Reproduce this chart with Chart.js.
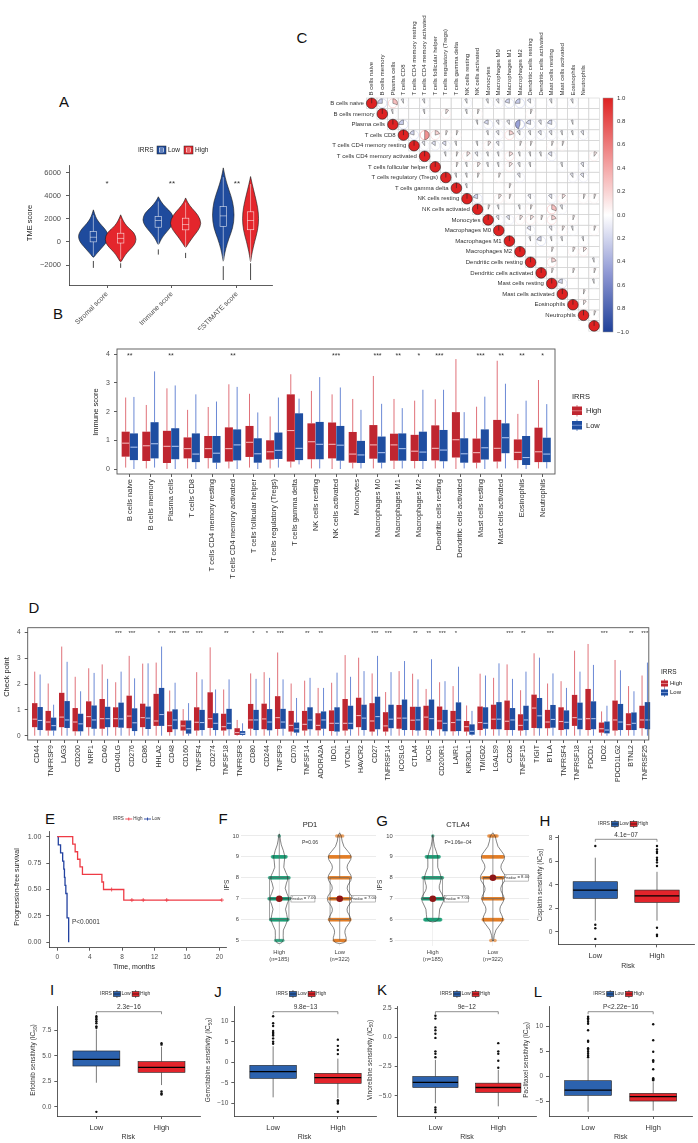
<!DOCTYPE html>
<html>
<head>
<meta charset="utf-8">
<title>Immune landscape by IRRS</title>
<script src="https://cdn.jsdelivr.net/npm/chart.js"></script>
<style>
  html, body { margin: 0; padding: 0; background: #fff; }
  #page { position: relative; width: 698px; height: 1143px; overflow: hidden; background: #fff;
          font-family: "Liberation Sans", Arial, Helvetica, sans-serif; }
  .tag { position: absolute; font-size: 15px; line-height: 15px; color: #111; transform: translate(-50%, -50%); }
</style>
</head>
<body>
<div id="page">
  <div class="tag" style="left:64px;top:101px">A</div>
  <div class="tag" style="left:302px;top:37px">C</div>
  <div class="tag" style="left:58px;top:313px">B</div>
  <div class="tag" style="left:34px;top:607px">D</div>
  <div class="tag" style="left:50px;top:818px">E</div>
  <div class="tag" style="left:223px;top:818px">F</div>
  <div class="tag" style="left:382px;top:820px">G</div>
  <div class="tag" style="left:545px;top:820px">H</div>
  <div class="tag" style="left:52px;top:989px">I</div>
  <div class="tag" style="left:218px;top:991px">J</div>
  <div class="tag" style="left:382px;top:989px">K</div>
  <div class="tag" style="left:538px;top:991px">L</div>
</div>
<script>
var FONT = '"Liberation Sans", Arial, Helvetica, sans-serif';
Chart.defaults.font.family = FONT;
Chart.defaults.color = '#333';

// ---------------- data ----------------
// A: TME scores (violins read as [value, relative density])
var tmeCats = ['Stromal score', 'Immune score', 'ESTIMATE score'];
var tmeSig = ['*', '**', '**'];
var tmeLowViolin = [
  [[2770,0],[2400,0.08],[2000,0.2],[1600,0.4],[1200,0.68],[800,0.88],[450,0.95],[0,0.85],[-400,0.6],[-800,0.35],[-1100,0.15],[-1400,0]],
  [[3900,0],[3500,0.15],[3000,0.45],[2500,0.85],[1900,1.0],[1400,0.85],[900,0.55],[400,0.25],[0,0.1],[-300,0]],
  [[6400,0],[5500,0.12],[4500,0.35],[3500,0.6],[2300,0.7],[1200,0.6],[300,0.35],[-600,0.15],[-1300,0.05],[-1800,0]]
];
var tmeHighViolin = [
  [[2340,0],[2000,0.1],[1600,0.25],[1200,0.5],[800,0.85],[200,1.0],[-300,0.85],[-700,0.55],[-1100,0.3],[-1500,0.12],[-1800,0]],
  [[3800,0],[3400,0.12],[2900,0.4],[2300,0.8],[1600,1.0],[1000,0.8],[500,0.5],[0,0.25],[-300,0.1],[-550,0]],
  [[5650,0],[5000,0.1],[4000,0.28],[3000,0.45],[2000,0.52],[1000,0.45],[0,0.25],[-900,0.1],[-1400,0.04],[-1800,0]]
];
var tmeLowBox = [[0, 400, 900], [1270, 1850, 2200], [1330, 2250, 3050]];
var tmeHighBox = [[-100, 300, 750], [1040, 1500, 2050], [1050, 1850, 2600]];
var tmeLowWhisker = [[-1200, 2300], [-300, 3500], [-1800, 5600]];
var tmeHighWhisker = [[-1500, 2000], [-550, 3400], [-1700, 5000]];
var tmeLowOutliers = [[-1650, -2250], [-650, -1100], [-2100, -3300]];
var tmeHighOutliers = [[-1850, -2250], [-950, -1400], [-1850, -3300]];

// B / C: immune cells
var cellTypes = ['B cells naive', 'B cells memory', 'Plasma cells', 'T cells CD8', 'T cells CD4 memory resting',
  'T cells CD4 memory activated', 'T cells follicular helper', 'T cells regulatory (Tregs)', 'T cells gamma delta',
  'NK cells resting', 'NK cells activated', 'Monocytes', 'Macrophages M0', 'Macrophages M1', 'Macrophages M2',
  'Dendritic cells resting', 'Dendritic cells activated', 'Mast cells resting', 'Mast cells activated',
  'Eosinophils', 'Neutrophils'];
var immSig = ['**', '', '**', '', '', '**', '', '', '', '', '***', '', '***', '**', '*', '***', '', '***', '**', '**', '*'];
// [lower whisker, q1, median, q3, upper whisker]
var immHigh = [[0.05,0.43,0.90,1.30,2.49],[0.02,0.28,0.81,1.30,2.23],[0,0.21,0.79,1.33,2.81],[0.02,0.37,0.71,1.10,2.06],
  [0.02,0.38,0.71,1.15,2.16],[0.02,0.26,0.71,1.45,2.95],[0.05,0.42,0.93,1.50,2.62],[0.02,0.33,0.60,1.00,1.83],
  [0.05,0.26,1.34,2.60,3.30],[0.02,0.34,0.95,1.59,2.72],[0,0.37,0.86,1.62,2.60],[0.02,0.22,0.52,1.29,2.44],
  [0.02,0.36,0.84,1.53,3.24],[0,0.29,0.84,1.23,2.44],[0.02,0.28,0.62,1.19,2.38],[0.02,0.30,0.72,1.52,2.43],
  [0,0.40,1.02,1.98,3.83],[0.02,0.22,0.57,1.06,2.17],[0.02,0.26,0.72,1.71,3.77],[0.02,0.31,0.58,1.03,1.92],
  [0.02,0.24,0.60,1.44,3.10]];
var immLow = [[0,0.31,0.76,1.24,2.51],[0.05,0.37,0.88,1.63,3.40],[0,0.34,0.79,1.42,2.91],[0,0.24,0.52,1.24,2.60],
  [0,0.22,0.55,1.15,2.35],[0,0.30,0.84,1.38,2.86],[0,0.22,0.53,1.07,1.97],[0.05,0.35,0.65,1.27,2.49],
  [0.16,0.31,0.72,1.94,2.45],[0.02,0.34,0.86,1.64,3.20],[0,0.29,0.83,1.50,2.84],[0.02,0.21,0.49,0.98,2.06],
  [0.02,0.22,0.57,1.13,2.27],[0.02,0.29,0.71,1.24,2.12],[0,0.28,0.59,1.30,2.76],[0.02,0.27,0.66,1.36,2.76],
  [0.02,0.22,0.53,1.07,1.98],[0,0.33,0.74,1.38,2.52],[0.02,0.55,1.09,1.59,2.97],[0,0.14,0.40,1.15,2.38],
  [0.02,0.24,0.52,1.09,2.26]];

// C: correlation matrix entries [row, column, r]; diagonal is 1
var cellCorr = [
  [0,1,-0.25],[0,2,0.3],[0,3,-0.08],[0,5,-0.08],[0,9,-0.08],[0,11,-0.08],[0,12,-0.1],[0,13,-0.2],[0,14,-0.25],[0,15,-0.12],[0,17,-0.08],[0,19,-0.08],
  [1,2,-0.06],[1,5,-0.06],[1,7,0.1],[1,9,-0.06],[1,10,0.06],[1,15,0.06],
  [2,3,-0.25],[2,10,-0.06],[2,11,-0.18],[2,12,-0.1],[2,13,-0.1],[2,14,-0.45],[2,15,-0.2],[2,16,-0.1],[2,17,-0.2],[2,19,-0.06],
  [3,4,-0.2],[3,5,0.5],[3,6,0.2],[3,7,0.06],[3,8,0.06],[3,11,-0.06],[3,12,-0.1],[3,13,0.2],[3,14,-0.1],[3,15,-0.08],[3,16,-0.12],[3,17,-0.1],[3,18,-0.06],[3,19,-0.06],[3,20,-0.1],
  [4,5,-0.1],[4,6,-0.15],[4,7,-0.15],[4,8,-0.06],[4,10,-0.06],[4,11,0.1],[4,12,-0.1],[4,14,0.06],[4,15,0.06],[4,17,0.06],[4,18,0.06],
  [5,7,-0.06],[5,8,0.06],[5,9,0.12],[5,10,-0.1],[5,11,-0.06],[5,12,-0.06],[5,13,0.15],[5,14,-0.06],[5,15,-0.06],[5,16,-0.06],[5,17,-0.15],[5,21,0.1],
  [6,8,0.06],[6,9,-0.06],[6,10,0.1],[6,11,-0.06],[6,12,-0.06],[6,13,0.12],[6,14,-0.08],[6,15,-0.06],[6,18,-0.06],[6,20,-0.1],
  [7,8,-0.06],[7,9,-0.06],[7,10,0.06],[7,12,0.06],[7,14,-0.1],[7,19,-0.1],[7,20,-0.12],
  [8,9,-0.06],[8,13,0.06],
  [9,10,-0.2],[9,12,0.1],[9,13,0.06],[9,15,-0.1],[9,17,-0.12],[9,18,0.12],[9,20,0.06],[9,21,0.06],
  [10,11,0.06],[10,12,-0.06],[10,14,-0.06],[10,15,0.06],[10,17,0.3],[10,18,-0.08],
  [11,12,-0.1],[11,13,-0.12],[11,14,0.1],[11,15,0.12],[11,16,0.06],[11,17,0.2],[11,19,0.06],
  [12,15,-0.15],[12,17,-0.1],[12,18,0.08],[12,19,-0.06],[12,21,0.06],
  [13,15,-0.06],[13,16,-0.2],[13,17,-0.06],[13,18,-0.06],[13,20,-0.06],
  [14,17,0.06],[14,19,0.08],[14,20,0.12],
  [15,17,0.2],[15,21,-0.06],
  [16,17,0.06],[16,19,0.06],[16,21,0.06],
  [17,18,-0.2],[17,21,-0.06],
  [18,20,0.06],[19,20,0.1],[20,21,0.06]
];
var colorbarLabels = ['1.0', '0.8', '0.6', '0.4', '0.2', '0.0', '0.2', '0.4', '0.6', '0.8', '\u22121.0'];

// D: immune checkpoints
var cpGenes = ['CD44','TNFRSF9','LAG3','CD200','NRP1','CD40','CD40LG','CD276','CD86','HHLA2','CD48','CD160','TNFSF4',
  'CD274','TNFSF18','TNFRSF8','CD80','CD244','TNFSF9','CD70','TNFSF14','ADORA2A','IDO1','VTCN1','HAVCR2','CD27',
  'TNFRSF14','ICOSLG','CTLA4','ICOS','CD200R1','LAIR1','KIR3DL1','TMIGD2','LGALS9','CD28','TNFSF15','TIGIT','BTLA',
  'TNFRSF4','TNFRSF18','PDCD1','IDO2','PDCD1LG2','BTNL2','TNFRSF25'];
var cpSig = ['','','','','','','***','***','','*','***','***','***','','**','','*','*','***','','**','**','','','',
  '***','***','','**','**','***','*','','','','***','**','','***','','','','***','','**','***'];
var cpHigh = [[0,0.33,0.64,1.26,2.48],[0,0.20,0.53,0.96,2.02],[0,0.33,0.72,1.66,3.45],[0,0.17,0.53,1.07,2.28],
  [0,0.33,0.74,1.33,2.61],[0,0.27,0.66,1.42,2.76],[0,0.33,0.66,1.10,2.07],[0,0.29,0.76,1.55,3.09],[0,0.33,0.70,1.24,2.79],
  [0,0.38,0.57,1.62,2.83],[0,0.14,0.39,0.94,1.75],[0,0.20,0.38,0.59,1.03],[0,0.20,0.52,1.10,2.46],[0,0.30,0.66,1.68,3.42],
  [0,0.20,0.35,0.85,1.79],[0,0.03,0.12,0.29,0.61],[0,0.27,0.61,1.23,2.41],[0,0.25,0.65,1.24,2.46],[0,0.26,0.70,1.53,3.22],
  [0,0.16,0.40,0.96,2.02],[0,0.20,0.44,0.96,2.13],[0,0.21,0.40,0.87,1.85],[0,0.18,0.48,0.98,2.05],[0,0.20,0.48,1.42,3.12],
  [0,0.33,0.78,1.47,3.02],[0,0.16,0.57,1.26,2.41],[0,0.16,0.38,0.91,1.69],[0,0.27,0.68,1.19,2.50],[0,0.22,0.60,1.12,2.40],
  [0,0.22,0.72,1.16,1.81],[0,0.25,0.57,1.13,2.07],[0,0.17,0.51,0.96,1.92],[0,0.16,0.35,0.57,1.17],[0,0.22,0.51,1.13,2.40],
  [0,0.25,0.64,1.20,2.24],[0,0.22,0.56,1.36,2.76],[0,0.20,0.40,0.83,1.76],[0,0.30,1.07,1.59,3.19],[0,0.29,0.53,1.00,2.02],
  [0,0.22,0.55,1.10,2.11],[0,0.38,0.70,1.58,3.29],[0,0.22,0.66,1.81,3.55],[0,0.12,0.27,0.51,0.94],[0,0.20,0.61,1.36,2.93],
  [0,0.22,0.43,0.87,1.92],[0,0.29,0.61,1.16,2.33]];
var cpLow = [[0,0.22,0.59,1.11,2.37],[0,0.20,0.39,0.70,1.20],[0,0.30,0.61,1.34,2.86],[0,0.17,0.46,0.85,1.72],
  [0,0.27,0.61,1.17,2.43],[0,0.33,0.66,1.12,2.20],[0,0.31,0.65,1.28,2.48],[0,0.18,0.50,1.06,2.22],[0,0.26,0.68,1.13,2.80],
  [0,0.38,0.82,1.85,3.45],[0,0.25,0.61,1.02,2.05],[0,0.08,0.27,0.59,1.26],[0,0.22,0.51,1.00,2.18],[0,0.22,0.48,0.87,1.79],
  [0,0.25,0.48,1.04,2.18],[0,0.03,0.09,0.18,0.48],[0,0.22,0.61,1.00,2.20],[0,0.21,0.53,1.03,2.24],[0,0.27,0.53,1.04,2.18],
  [0,0.12,0.27,0.51,1.46],[0,0.25,0.61,1.10,2.24],[0,0.27,0.61,0.94,1.85],[0,0.16,0.48,1.10,2.44],[0,0.25,0.48,1.16,2.28],
  [0,0.22,0.68,1.20,2.50],[0,0.25,0.74,1.51,3.09],[0,0.29,0.64,1.20,2.46],[0,0.22,0.68,1.40,2.89],[0,0.20,0.61,1.12,2.18],
  [0,0.20,0.66,1.40,2.96],[0,0.17,0.48,1.00,2.11],[0,0.18,0.61,1.29,2.67],[0,0.04,0.17,0.44,0.96],[0,0.27,0.48,1.10,2.33],
  [0,0.25,0.64,1.30,2.80],[0,0.22,0.61,1.07,2.20],[0,0.22,0.61,1.16,2.48],[0,0.29,0.77,1.46,3.02],[0,0.31,0.63,1.19,2.41],
  [0,0.25,0.52,0.98,1.85],[0,0.25,0.64,1.28,2.48],[0,0.25,0.66,1.33,2.74],[0,0.09,0.22,0.55,1.16],[0,0.22,0.53,1.23,2.53],
  [0,0.22,0.48,0.90,1.72],[0,0.25,0.61,1.30,2.83]];

// E: Kaplan-Meier
var kmHighTime = [0, 1.9, 2.2, 2.5, 2.8, 3.1, 5.5, 5.7, 8.2, 20.3];
var kmHighSurv = [1, 0.929, 0.857, 0.786, 0.714, 0.643, 0.571, 0.5, 0.4, 0.4];
var kmHighCensorTime = [6.7, 9.2, 10.6, 13.5, 20.3];
var kmHighCensorSurv = [0.5, 0.4, 0.4, 0.4, 0.4];
var kmLowTime = [0, 0.12, 0.4, 0.66, 0.8, 0.88, 0.95, 1.05, 1.2, 1.4];
var kmLowSurv = [1, 0.923, 0.846, 0.769, 0.692, 0.615, 0.538, 0.462, 0.231, 0];

// F / G: IPS
var ipsLevels = [5, 6, 7, 8, 9, 10];
var pd1HighCounts = [6, 35, 70, 45, 22, 1];
var pd1LowCounts = [14, 55, 110, 85, 50, 4];
var ctla4HighCounts = [0, 30, 85, 45, 20, 1];
var ctla4LowCounts = [2, 45, 80, 110, 70, 8];
var pd1HighViolin = [[10.1,0],[10,0.05],[9.6,0.1],[9,0.45],[8.5,0.22],[8,0.67],[7.5,0.3],[7,0.73],[6.5,0.33],[6,0.67],[5.5,0.2],[5,0.33],[4.8,0]];
var pd1LowViolin = [[10.15,0],[10,0.13],[9.5,0.2],[9,0.93],[8.5,0.35],[8,0.93],[7.5,0.35],[7,1.0],[6.5,0.35],[6,0.87],[5.5,0.25],[5,0.53],[4.8,0]];
var ctla4HighViolin = [[10.05,0],[10,0.03],[9.5,0.08],[9,0.4],[8.5,0.27],[8,0.67],[7.5,0.33],[7,0.87],[6.5,0.4],[6,0.47],[5.85,0]];
var ctla4LowViolin = [[10.15,0],[10,0.2],[9.5,0.27],[9,0.93],[8.5,0.4],[8,1.0],[7.5,0.4],[7,0.87],[6.5,0.35],[6,0.8],[5.5,0.13],[5,0.05],[4.95,0]];
var pd1HighBox = [5, 6, 7, 8, 10], pd1LowBox = [5, 6, 7, 8, 10];
var ctla4HighBox = [6, 7, 7, 8, 10], ctla4LowBox = [5, 7, 8, 8, 10];

// H-L: drug sensitivity
var drugNames = ['Cisplatin', 'Erlotinib', 'Gemcitabine', 'Vinorelbine', 'Paclitaxel'];
var drugP = ['4.1e\u221207', '2.3e\u221216', '9.8e\u221213', '9e\u221212', 'P<2.22e\u221216'];
var drugLow = [[0.95,2.84,3.55,4.26,6.3],[2.36,4.0,4.66,5.48,7.6],[-8.5,-3.9,-2.27,-0.73,3.9],[-5.63,-4.29,-3.86,-3.35,-1.93],[-7.0,-3.73,-2.67,-0.8,3.5]];
var drugHigh = [[0.95,2.50,3.06,3.55,5.1],[2.13,3.38,3.87,4.43,5.9],[-8.7,-5.1,-3.72,-2.67,0.9],[-5.9,-4.72,-4.29,-3.92,-2.78],[-6.8,-4.87,-4.0,-3.33,-1.1]];
var drugLowOut = [[7.3,0.6,0.3,-0.6],[8.9,8.75,8.6,8.4,8.2,7.9,7.75,-0.5],[11.2,9.5,8.8,7.6,7.2,6.9,6.5,5.8,5.0,4.5],
  [1.85,1.6,0.85,0.6,0.3,-0.05,-1.2,-1.4,-1.7,-6.0,-6.2,-6.4],[12.0,11.7,11.4,11.0,10.6,9.3,7.2,7.0,5.7,5.4,5.0,4.6,4.2,3.9]];
var drugHighOut = [[7.3,7.0,6.8,6.7,6.3,6.1,5.9,5.6,0.35,-0.25,-0.35],[6.25,6.1,1.5,1.3,1.2],[5.5,4.0,3.0,2.0,-9.2,-9.6,-10.0,-12.0],
  [-0.5,-1.2,-1.4,-2.0,-2.6],[10.5,7.3,5.0,3.3,3.0,1.5,-0.3,-0.5,-0.7]];

// ---------------- colours ----------------
var BLUE_A = '#1f4b9d', RED_A = '#e4262c';
var HIGH_B = '#bf2630', LOW_B = '#1f4ea1';
var HIGH_WH = 'rgba(214,70,80,0.85)', LOW_WH = 'rgba(60,100,200,0.85)';
var HIGH_MED = '#f3b3b6', LOW_MED = '#a9c1ee';
var RED_E = '#ee3b45', BLUE_E = '#2342a0';
var DRUG_LOW = '#2c62ae', DRUG_HIGH = '#e3242b';
var GREEN = '#1b9e77', ORANGE = '#e27c25', MED_RED = '#8e1616';
var corrStops = [[-1, [31, 64, 153]], [-0.5, [143, 152, 212]], [0, [255, 255, 255]], [0.5, [241, 146, 146]], [1, [222, 34, 34]]];

// ---------------- helpers ----------------
var page = document.getElementById('page');

function range(n) { var a = []; for (var i = 0; i < n; i++) a.push(i); return a; }
function minus(v) { return v < 0 ? '\u2212' + Math.abs(v) : String(v); }
function minus1(v) { var s = Math.abs(v).toFixed(1); return v < 0 ? '\u2212' + s : s; }

function corrColor(r) {
  for (var k = 1; k < corrStops.length; k++) {
    if (r <= corrStops[k][0]) {
      var a = corrStops[k - 1], b = corrStops[k], t = (r - a[0]) / (b[0] - a[0]);
      return 'rgb(' + [0, 1, 2].map(function (q) { return Math.round(a[1][q] + t * (b[1][q] - a[1][q])); }).join(',') + ')';
    }
  }
  return 'rgb(222,34,34)';
}

function txt(c, s, x, y, size, o) {
  o = o || {};
  c.save();
  c.font = (o.weight || 'normal') + ' ' + size + 'px ' + FONT;
  c.fillStyle = o.color || '#333';
  c.textAlign = o.align || 'center';
  c.textBaseline = o.base || 'middle';
  c.translate(x, y);
  if (o.rot) c.rotate(o.rot);
  c.fillText(s, 0, 0);
  var w = c.measureText(s).width;
  c.restore();
  return w;
}

// alternating normal / subscript pieces, centred on (x, y)
function subTxt(c, parts, x, y, size, rot, color) {
  c.save();
  c.translate(x, y);
  if (rot) c.rotate(rot);
  c.fillStyle = color || '#333';
  c.textBaseline = 'middle';
  c.textAlign = 'left';
  var w = 0;
  parts.forEach(function (p, i) { c.font = (i % 2 ? size * 0.72 : size) + 'px ' + FONT; w += c.measureText(p).width; });
  var px = -w / 2;
  parts.forEach(function (p, i) {
    c.font = (i % 2 ? size * 0.72 : size) + 'px ' + FONT;
    c.fillText(p, px, i % 2 ? size * 0.3 : 0);
    px += c.measureText(p).width;
  });
  c.restore();
}

function line(c, x1, y1, x2, y2) { c.beginPath(); c.moveTo(x1, y1); c.lineTo(x2, y2); c.stroke(); }

function violin(c, prof, cx, ys, half, fill, stroke, lw) {
  var right = prof.map(function (p) { return [cx + p[1] * half, ys.getPixelForValue(p[0])]; });
  var left = prof.slice().reverse().map(function (p) { return [cx - p[1] * half, ys.getPixelForValue(p[0])]; });
  var pts = right.concat(left.slice(1));
  c.beginPath();
  c.moveTo(pts[0][0], pts[0][1]);
  for (var i = 1; i < pts.length - 1; i++) {
    c.quadraticCurveTo(pts[i][0], pts[i][1], (pts[i][0] + pts[i + 1][0]) / 2, (pts[i][1] + pts[i + 1][1]) / 2);
  }
  c.lineTo(pts[pts.length - 1][0], pts[pts.length - 1][1]);
  c.closePath();
  if (fill) { c.fillStyle = fill; c.fill(); }
  if (stroke) { c.strokeStyle = stroke; c.lineWidth = lw; c.stroke(); }
}

// filled box without outline (panels B, D)
function softBox(c, cx, hw, ys, st, fill, wh, med) {
  var p = st.map(function (v) { return ys.getPixelForValue(v); });
  c.strokeStyle = wh; c.lineWidth = 0.9;
  line(c, cx, p[0], cx, p[1]);
  line(c, cx, p[3], cx, p[4]);
  c.fillStyle = fill;
  c.fillRect(cx - hw, p[3], 2 * hw, p[1] - p[3]);
  c.strokeStyle = med; c.lineWidth = 1.1;
  line(c, cx - hw + 0.5, p[2], cx + hw - 0.5, p[2]);
}

// ggpubr style box (panels H-L)
function hardBox(c, cx, hw, ys, st, fill) {
  var p = st.map(function (v) { return ys.getPixelForValue(v); });
  c.strokeStyle = '#222'; c.lineWidth = 0.6;
  line(c, cx, p[0], cx, p[1]);
  line(c, cx, p[3], cx, p[4]);
  c.fillStyle = fill;
  c.fillRect(cx - hw, p[3], 2 * hw, p[1] - p[3]);
  c.strokeRect(cx - hw, p[3], 2 * hw, p[1] - p[3]);
  c.strokeStyle = '#000'; c.lineWidth = 1.3;
  line(c, cx - hw, p[2], cx + hw, p[2]);
}

function boxKey(c, x, y, w, h, fill, med, edge) {
  c.strokeStyle = edge || fill; c.lineWidth = 0.6;
  line(c, x + w / 2, y - 1.5, x + w / 2, y + h + 1.5);
  c.fillStyle = fill;
  c.fillRect(x, y, w, h);
  if (edge) c.strokeRect(x, y, w, h);
  c.strokeStyle = med;
  line(c, x, y + h / 2, x + w, y + h / 2);
}

var CLASSIC_GRID = { drawOnChartArea: false, drawTicks: true, tickLength: 3, color: '#333', lineWidth: 0.8 };
var CLASSIC_BORDER = { display: true, color: '#333', width: 0.8 };

function axis(min, max, ticks, fmt, o) {
  o = o || {};
  return {
    type: 'linear', min: min, max: max, reverse: !!o.reverse,
    afterBuildTicks: function (s) { s.ticks = ticks.map(function (v) { return { value: v }; }); },
    ticks: {
      callback: fmt, font: { size: o.size || 7, lineHeight: 1.2 }, color: o.color || '#4d4d4d',
      padding: o.pad == null ? 3 : o.pad, autoSkip: false, maxRotation: o.rot || 0, minRotation: o.rot || 0
    },
    grid: o.grid || CLASSIC_GRID,
    border: o.border || CLASSIC_BORDER
  };
}

// one canvas per panel; `area` is the plot rectangle in page pixels
function makeChart(box, area, scales, datasets, draw) {
  var cv = document.createElement('canvas');
  cv.width = box[2]; cv.height = box[3];
  cv.style.cssText = 'position:absolute;left:' + box[0] + 'px;top:' + box[1] + 'px;width:' + box[2] + 'px;height:' + box[3] + 'px;';
  page.appendChild(cv);
  var L = area[0] - box[0], T = area[1] - box[1];
  var R = box[0] + box[2] - area[2], B = box[1] + box[3] - area[3];
  var pad = { top: T, right: R, left: 0, bottom: 0 };
  if (scales.x.display === false) pad.bottom = B; else scales.x.afterFit = function (s) { s.height = B; };
  if (scales.y.display === false) pad.left = L; else scales.y.afterFit = function (s) { s.width = L; };
  var P = { x: function (v) { return v - box[0]; }, y: function (v) { return v - box[1]; } };
  return new Chart(cv, {
    type: 'scatter',
    data: { datasets: datasets },
    options: {
      responsive: false, animation: false, devicePixelRatio: 1,
      layout: { padding: pad },
      scales: scales,
      plugins: { legend: { display: false }, tooltip: { enabled: false } }
    },
    plugins: [{
      id: 'panelDraw',
      beforeDatasetsDraw: function (chart) {
        if (!draw.before) return;
        chart.ctx.save(); draw.before(chart.ctx, chart.scales.x, chart.scales.y, P, chart); chart.ctx.restore();
      },
      afterDatasetsDraw: function (chart) {
        if (!draw.after) return;
        chart.ctx.save(); draw.after(chart.ctx, chart.scales.x, chart.scales.y, P, chart); chart.ctx.restore();
      }
    }]
  });
}

// ---------------- A: TME violins ----------------
makeChart([0, 140, 290, 190], [69, 165, 272, 285], {
  x: axis(-0.585, 2.54, [0, 1, 2], function (v) { return tmeCats[v]; }, { rot: 45, size: 7, pad: 2 }),
  y: axis(-3730, 6650, [-2000, 0, 2000, 4000, 6000], minus, { size: 7.5, pad: 5 })
}, [], {
  after: function (c, xs, ys, P) {
    var u = xs.getPixelForValue(1) - xs.getPixelForValue(0);
    var y = function (v) { return ys.getPixelForValue(v); };
    var groups = [
      { vio: tmeLowViolin, box: tmeLowBox, wh: tmeLowWhisker, out: tmeLowOutliers, col: BLUE_A, dx: -0.21 },
      { vio: tmeHighViolin, box: tmeHighBox, wh: tmeHighWhisker, out: tmeHighOutliers, col: RED_A, dx: 0.21 }
    ];
    tmeCats.forEach(function (name, i) {
      groups.forEach(function (g) {
        var cx = xs.getPixelForValue(i + g.dx), hw = u * 0.05;
        c.strokeStyle = '#333'; c.lineWidth = 0.9;
        line(c, cx, y(g.out[i][0]), cx, y(g.out[i][1]));
        violin(c, g.vio[i], cx, ys, u * 0.245, g.col, '#1a1a1a', 0.6);
        c.strokeStyle = 'rgba(255,255,255,0.85)'; c.lineWidth = 0.6;
        line(c, cx, y(g.wh[i][0]), cx, y(g.box[i][0]));
        line(c, cx, y(g.box[i][2]), cx, y(g.wh[i][1]));
        c.strokeRect(cx - hw, y(g.box[i][2]), 2 * hw, y(g.box[i][0]) - y(g.box[i][2]));
        line(c, cx - hw, y(g.box[i][1]), cx + hw, y(g.box[i][1]));
      });
      txt(c, tmeSig[i], xs.getPixelForValue(i), ys.getPixelForValue(5000), 8, { color: '#333' });
    });
    txt(c, 'TME score', P.x(30), P.y(223), 7.5, { rot: -Math.PI / 2, color: '#222' });
    // legend
    txt(c, 'IRRS', P.x(138), P.y(150), 6.5, { align: 'left', color: '#222' });
    [[157, BLUE_A, 'Low'], [184, RED_A, 'High']].forEach(function (k) {
      var kx = P.x(k[0]), ky = P.y(146);
      c.fillStyle = k[1]; c.fillRect(kx, ky, 9, 8);
      c.strokeStyle = '#222'; c.lineWidth = 0.5; c.strokeRect(kx, ky, 9, 8);
      c.strokeStyle = '#fff'; c.lineWidth = 0.6;
      c.strokeRect(kx + 2.5, ky + 2, 4, 4);
      line(c, kx + 2.5, ky + 4, kx + 6.5, ky + 4);
      txt(c, k[2], kx + 11, ky + 4, 6.5, { align: 'left', color: '#222' });
    });
  }
});

// ---------------- C: correlation matrix ----------------
makeChart([230, 0, 468, 340], [366.4, 98, 599.4, 331.2], {
  x: { type: 'linear', display: false, min: -0.5, max: 21.5 },
  y: { type: 'linear', display: false, min: -0.5, max: 21.5, reverse: true }
}, [], {
  after: function (c, xs, ys, P) {
    var n = 22;
    var cw = xs.getPixelForValue(1) - xs.getPixelForValue(0);
    var X = function (j) { return xs.getPixelForValue(j); }, Y = function (i) { return ys.getPixelForValue(i); };
    c.strokeStyle = '#d2d2d2'; c.lineWidth = 0.6;
    for (var i = 0; i < n; i++) for (var j = i; j < n; j++) c.strokeRect(X(j) - cw / 2, Y(i) - cw / 2, cw, cw);
    var rad = cw * 0.43;
    cellCorr.forEach(function (e) {
      var x = X(e[1]), yy = Y(e[0]), r = e[2];
      c.strokeStyle = corrColor(r); c.lineWidth = 0.6;
      c.beginPath(); c.arc(x, yy, rad, 0, 2 * Math.PI); c.stroke();
      c.beginPath(); c.moveTo(x, yy);
      c.arc(x, yy, rad, -Math.PI / 2, -Math.PI / 2 + 2 * Math.PI * r, r < 0);
      c.closePath();
      c.fillStyle = corrColor(r); c.fill();
      c.strokeStyle = '#444'; c.lineWidth = 0.45; c.stroke();
    });
    for (var d = 0; d < n; d++) {
      var dx = X(d), dy = Y(d);
      c.beginPath(); c.arc(dx, dy, cw * 0.5, 0, 2 * Math.PI);
      c.fillStyle = corrColor(1); c.fill();
      c.strokeStyle = '#222'; c.lineWidth = 0.6; c.stroke();
      line(c, dx, dy, dx, dy - cw * 0.5);
    }
    cellTypes.forEach(function (name, k) {
      txt(c, name, X(k) - cw / 2 - 2.5, Y(k), 6, { align: 'right', color: '#333' });
      txt(c, name, X(k), Y(0) - cw / 2 - 2.5, 6, { align: 'left', rot: -Math.PI / 2, color: '#333' });
    });
    // colour bar
    var bx = P.x(603), by0 = P.y(98), by1 = P.y(332);
    var grad = c.createLinearGradient(0, by0, 0, by1);
    for (var s = 0; s <= 20; s++) grad.addColorStop(s / 20, corrColor(1 - s / 10));
    c.fillStyle = grad; c.fillRect(bx, by0, 10, by1 - by0);
    c.strokeStyle = '#999'; c.lineWidth = 0.5; c.strokeRect(bx, by0, 10, by1 - by0);
    colorbarLabels.forEach(function (lab, k) {
      txt(c, lab, P.x(617), by0 + k * (by1 - by0) / 10, 6, { align: 'left', color: '#333' });
    });
  }
});

// ---------------- B: immune cell boxplots ----------------
makeChart([0, 300, 698, 305], [117, 349, 555, 474], {
  x: axis(-0.62, 20.6, range(21), function (v) { return cellTypes[v]; }, { rot: 90, size: 7.5, pad: 2, color: '#333', border: { display: false } }),
  y: axis(-0.174, 4.18, [0, 1, 2, 3, 4], String, { size: 7, pad: 4, border: { display: false } })
}, [], {
  after: function (c, xs, ys, P, chart) {
    var a = chart.chartArea;
    var u = xs.getPixelForValue(1) - xs.getPixelForValue(0);
    cellTypes.forEach(function (name, i) {
      softBox(c, xs.getPixelForValue(i - 0.2), u * 0.195, ys, immHigh[i], HIGH_B, HIGH_WH, HIGH_MED);
      softBox(c, xs.getPixelForValue(i + 0.2), u * 0.195, ys, immLow[i], LOW_B, LOW_WH, LOW_MED);
      if (immSig[i]) txt(c, immSig[i], xs.getPixelForValue(i), ys.getPixelForValue(3.93), 7, { color: '#333' });
    });
    c.strokeStyle = '#555'; c.lineWidth = 0.9;
    c.strokeRect(a.left, a.top, a.right - a.left, a.bottom - a.top);
    txt(c, 'Immune score', P.x(96), P.y(412), 7.5, { rot: -Math.PI / 2, color: '#222' });
    txt(c, 'IRRS', P.x(572), P.y(397), 7.5, { align: 'left', color: '#222' });
    boxKey(c, P.x(572), P.y(406.5), 10, 8.5, HIGH_B, HIGH_MED, null);
    boxKey(c, P.x(572), P.y(421), 10, 8.5, LOW_B, LOW_MED, null);
    txt(c, 'High', P.x(586), P.y(411), 7.5, { align: 'left', color: '#222' });
    txt(c, 'Low', P.x(586), P.y(425.5), 7.5, { align: 'left', color: '#222' });
  }
});

// ---------------- D: checkpoint boxplots ----------------
makeChart([0, 600, 698, 185], [27.7, 627.7, 648.8, 740], {
  x: axis(-0.72, 45.3, range(46), function (v) { return cpGenes[v]; }, { rot: 90, size: 7, pad: 2, color: '#333', border: { display: false } }),
  y: axis(-0.166, 4.18, [0, 1, 2, 3, 4], String, { size: 6.5, pad: 4, border: { display: false } })
}, [], {
  after: function (c, xs, ys, P, chart) {
    var a = chart.chartArea;
    var u = xs.getPixelForValue(1) - xs.getPixelForValue(0);
    cpGenes.forEach(function (g, i) {
      softBox(c, xs.getPixelForValue(i - 0.2), u * 0.2, ys, cpHigh[i], HIGH_B, HIGH_WH, HIGH_MED);
      softBox(c, xs.getPixelForValue(i + 0.2), u * 0.2, ys, cpLow[i], LOW_B, LOW_WH, LOW_MED);
      if (cpSig[i]) txt(c, cpSig[i], xs.getPixelForValue(i), ys.getPixelForValue(3.98), 6, { color: '#333' });
    });
    c.strokeStyle = '#555'; c.lineWidth = 0.9;
    c.strokeRect(a.left, a.top, a.right - a.left, a.bottom - a.top);
    txt(c, 'Check point', P.x(7), P.y(677), 7.5, { rot: -Math.PI / 2, color: '#222' });
    txt(c, 'IRRS', P.x(661), P.y(672), 6.5, { align: 'left', color: '#222' });
    boxKey(c, P.x(661), P.y(680.5), 7, 6, HIGH_B, HIGH_MED, null);
    boxKey(c, P.x(661), P.y(689.5), 7, 6, LOW_B, LOW_MED, null);
    txt(c, 'High', P.x(670), P.y(683.5), 6, { align: 'left', color: '#222' });
    txt(c, 'Low', P.x(670), P.y(692.5), 6, { align: 'left', color: '#222' });
  }
});

// ---------------- E: Kaplan-Meier ----------------
makeChart([0, 800, 235, 175], [49.3, 831.7, 226.7, 947.7], {
  x: axis(-0.99, 20.9, [0, 4, 8, 12, 16, 20], String, { size: 6.5, pad: 3 }),
  y: axis(-0.051, 1.047, [0, 0.25, 0.5, 0.75, 1], function (v) { return v.toFixed(2); }, { size: 7, pad: 5 })
}, [
  { data: kmHighTime.map(function (t, i) { return { x: t, y: kmHighSurv[i] }; }), showLine: true, stepped: true,
    borderColor: RED_E, borderWidth: 1.3, pointRadius: 0, fill: false },
  { data: kmLowTime.map(function (t, i) { return { x: t, y: kmLowSurv[i] }; }), showLine: true, stepped: true,
    borderColor: BLUE_E, borderWidth: 1.3, pointRadius: 0, fill: false },
  { data: kmHighCensorTime.map(function (t, i) { return { x: t, y: kmHighCensorSurv[i] }; }),
    pointStyle: 'cross', pointRadius: 2, borderColor: RED_E, borderWidth: 0.8 }
], {
  after: function (c, xs, ys, P) {
    txt(c, 'P<0.0001', xs.getPixelForValue(1.8), ys.getPixelForValue(0.19), 6.5, { align: 'left', color: '#333' });
    txt(c, 'Progression-free survival', P.x(16.7), P.y(887), 7, { rot: -Math.PI / 2, color: '#222' });
    txt(c, 'Time, months', P.x(134), P.y(967), 7, { color: '#222' });
    var x = P.x(113), yy = P.y(819);
    x += txt(c, 'IRRS', x, yy, 4.5, { align: 'left', color: '#333' }) + 1.5;
    [[RED_E, 'High'], [BLUE_E, 'Low']].forEach(function (k) {
      c.strokeStyle = k[0]; c.lineWidth = 0.9;
      line(c, x, yy, x + 7, yy);
      line(c, x + 3.5, yy - 1.5, x + 3.5, yy + 1.5);
      x += 8;
      x += txt(c, k[1], x, yy, 4.5, { align: 'left', color: '#333' }) + 1.5;
    });
  }
});

// ---------------- F / G: IPS violins ----------------
var GG_GRID = { drawOnChartArea: true, drawTicks: false, color: '#ebebeb', lineWidth: 0.7 };
var GG_GRID_Y = { drawOnChartArea: true, drawTicks: true, tickLength: 2, color: '#e3e3e3', lineWidth: 0.7 };

function ipsPanel(box, area, title, titleX, pText, groups) {
  makeChart(box, area, {
    x: axis(-0.6, 1.6, [0, 1], function (v) { return groups[v].label; }, { size: 5.8, pad: 3, color: '#444', grid: GG_GRID, border: { display: false } }),
    y: axis(4.74, 10.26, ipsLevels, String, { size: 5.8, pad: 2, color: '#444', grid: GG_GRID_Y, border: { display: false } })
  }, [
    { data: groups.map(function (g, i) { return { x: i, y: g.box[2] }; }), pointRadius: 3.3, backgroundColor: MED_RED, borderWidth: 0 }
  ], {
    before: function (c, xs, ys) {
      var u = xs.getPixelForValue(1) - xs.getPixelForValue(0);
      groups.forEach(function (g, i) {
        var cx = xs.getPixelForValue(i);
        // jittered patients, one band per IPS level, width from the count
        ipsLevels.forEach(function (lv, k) {
          var n = g.counts[k];
          if (!n) return;
          var m = Math.min(n, 30), half = u * 0.17 * Math.min(1, Math.sqrt(n / 50));
          c.fillStyle = g.color; c.globalAlpha = 0.65;
          for (var q = 0; q < m; q++) {
            var px = m === 1 ? cx : cx - half + 2 * half * q / (m - 1);
            c.beginPath(); c.arc(px, ys.getPixelForValue(lv), 1.8, 0, 2 * Math.PI); c.fill();
          }
          c.globalAlpha = 1;
        });
        var b = g.box.map(function (v) { return ys.getPixelForValue(v); }), hw = u * 0.16;
        c.strokeStyle = '#666'; c.lineWidth = 0.6;
        line(c, cx, b[0], cx, b[1]);
        line(c, cx, b[3], cx, b[4]);
        c.strokeRect(cx - hw, b[3], 2 * hw, b[1] - b[3]);
        c.strokeStyle = '#333';
        line(c, cx - hw, b[2], cx + hw, b[2]);
        violin(c, g.violin, cx, ys, u * 0.245, null, '#333', 0.6);
      });
    },
    after: function (c, xs, ys, P) {
      var u = xs.getPixelForValue(1) - xs.getPixelForValue(0);
      groups.forEach(function (g, i) {
        var x0 = xs.getPixelForValue(i) + u * 0.16 + 2, my = ys.getPixelForValue(g.box[2]);
        c.fillStyle = '#fff'; c.fillRect(x0, my - 3.3, 24, 6.6);
        c.strokeStyle = '#777'; c.lineWidth = 0.5; c.strokeRect(x0, my - 3.3, 24, 6.6);
        subTxt(c, ['\u03bc\u0302', 'median', ' = ' + g.box[2].toFixed(2)], x0 + 12, my - 0.5, 4.3, 0, '#333');
      });
      txt(c, title, P.x(titleX), P.y(825), 7.5, { color: '#222' });
      txt(c, pText, P.x(titleX), P.y(842.5), 5, { color: '#333' });
      txt(c, 'IPS', P.x(box[0] + 47), P.y(885), 6.5, { rot: -Math.PI / 2, color: '#333' });
    }
  });
}

ipsPanel([180, 800, 200, 175], [243, 830.5, 377.6, 946], 'PD1', 310, 'P=0.06', [
  { label: ['High', '(n=185)'], counts: pd1HighCounts, violin: pd1HighViolin, box: pd1HighBox, color: GREEN },
  { label: ['Low', '(n=322)'], counts: pd1LowCounts, violin: pd1LowViolin, box: pd1LowBox, color: ORANGE }
]);
ipsPanel([333, 800, 200, 175], [396.7, 830.5, 531.6, 946], 'CTLA4', 458, 'P=1.06e\u221204', [
  { label: ['High', '(n=185)'], counts: ctla4HighCounts, violin: ctla4HighViolin, box: ctla4HighBox, color: GREEN },
  { label: ['Low', '(n=322)'], counts: ctla4LowCounts, violin: ctla4LowViolin, box: ctla4LowBox, color: ORANGE }
]);

// ---------------- H-L: drug sensitivity ----------------
function drugPanel(k, box, area, yMin, yMax, yTicks, fmt, legendXY, bracketY, yTitleXY, riskXY) {
  makeChart(box, area, {
    x: axis(-0.6, 1.6, [0, 1], function (v) { return ['Low', 'High'][v]; }, { size: 7.5, pad: 4, color: '#333' }),
    y: axis(yMin, yMax, yTicks, fmt, { size: 6.5, pad: 3 })
  }, [
    { data: drugLowOut[k].map(function (v) { return { x: 0, y: v }; }), pointRadius: 1.2, backgroundColor: '#111', borderWidth: 0 },
    { data: drugHighOut[k].map(function (v) { return { x: 1, y: v }; }), pointRadius: 1.2, backgroundColor: '#111', borderWidth: 0 }
  ], {
    before: function (c, xs, ys) {
      var u = xs.getPixelForValue(1) - xs.getPixelForValue(0);
      hardBox(c, xs.getPixelForValue(0), u * 0.36, ys, drugLow[k], DRUG_LOW);
      hardBox(c, xs.getPixelForValue(1), u * 0.36, ys, drugHigh[k], DRUG_HIGH);
    },
    after: function (c, xs, ys, P) {
      var x0 = xs.getPixelForValue(0), x1 = xs.getPixelForValue(1), by = P.y(bracketY);
      c.strokeStyle = '#444'; c.lineWidth = 0.6;
      c.beginPath(); c.moveTo(x0, by + 2.5); c.lineTo(x0, by); c.lineTo(x1, by); c.lineTo(x1, by + 2.5); c.stroke();
      txt(c, drugP[k], (x0 + x1) / 2, by - 1.2, 6.5, { base: 'bottom', color: '#333' });
      subTxt(c, [drugNames[k] + ' sensitivity (IC', '50', ')'], P.x(yTitleXY[0]), P.y(yTitleXY[1]), 6.5, -Math.PI / 2, '#333');
      txt(c, 'Risk', P.x(riskXY[0]), P.y(riskXY[1]), 7, { color: '#333' });
      var lx = P.x(legendXY[0]), ly = P.y(legendXY[1]);
      lx += txt(c, 'IRRS', lx, ly, 5, { align: 'left', color: '#333' }) + 1.5;
      boxKey(c, lx, ly - 2.5, 7, 5, DRUG_LOW, '#000', '#222'); lx += 8;
      lx += txt(c, 'Low', lx, ly, 5, { align: 'left', color: '#333' }) + 1.5;
      boxKey(c, lx, ly - 2.5, 7, 5, DRUG_HIGH, '#000', '#222'); lx += 8;
      txt(c, 'High', lx, ly, 5, { align: 'left', color: '#333' });
    }
  });
}

drugPanel(0, [520, 800, 178, 175], [558.3, 835, 694.7, 944.3], -1.06, 8.23, [0, 2, 4, 6, 8], minus, [598, 824], 839.3, [540, 885], [628, 966]);
drugPanel(1, [0, 980, 210, 163], [57.3, 1006.7, 200.6, 1116], -0.91, 9.83, [0, 2.5, 5, 7.5], minus1, [100, 994], 1011.7, [33.3, 1060], [128.3, 1136.7]);
drugPanel(2, [175, 980, 210, 163], [234.3, 1006.7, 376.7, 1116], -13.03, 13.5, [-10, -5, 0, 5, 10], minus, [276, 994], 1011.7, [208.3, 1060], [304.5, 1136.7]);
drugPanel(3, [340, 980, 200, 163], [397.7, 1006.7, 537.4, 1116], -6.73, 2.62, [-5, -2.5, 0, 2.5], minus1, [440, 994], 1011.7, [370, 1060], [467, 1136.7]);
drugPanel(4, [500, 980, 198, 163], [549, 1006.7, 692.3, 1116], -7.86, 14, [-5, 0, 5, 10], minus, [593.3, 994], 1011.7, [526.7, 1060], [620.8, 1136.7]);
</script>
</body>
</html>
